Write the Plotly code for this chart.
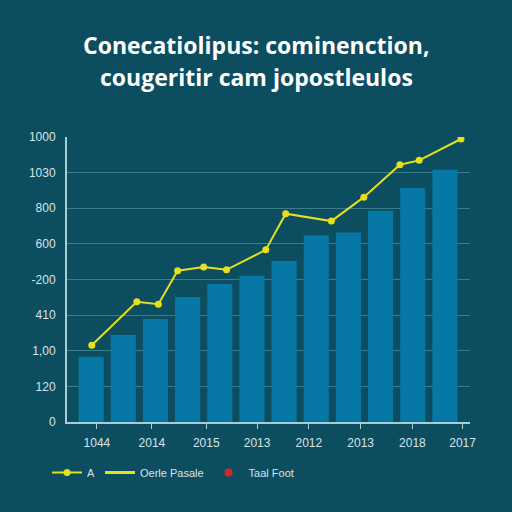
import plotly.graph_objects as go

# Data
bar_x = list(range(12))
bar_values = [229, 305, 361, 439, 484, 513, 565, 655, 665, 741, 821, 885]

line_x = [0.02, 1.42, 2.09, 2.69, 3.50, 4.21, 5.43, 6.05, 7.47, 8.48, 9.60, 10.2, 11.5]
line_values = [269, 422, 413, 531, 544, 534, 604, 731, 705, 789, 903, 918, 993]

y_tickvals = [0, 125, 250, 375, 500, 625, 750, 875, 1000]
y_ticktext = ["0", "120", "1,00", "410", "-200", "600", "800", "1030", "1000"]

x_tickvals = [0.18, 1.89, 3.58, 5.16, 6.77, 8.38, 9.99, 11.55]
x_ticktext = ["1044", "2014", "2015", "2013", "2012", "2013", "2018", "2017"]

title_lines = ["Conecatiolipus: cominenction,", "cougeritir cam jopostleulos"]
legend_names = ["A", "Oerle Pasale", "Taal Foot"]

BG = "#0c4d60"
BAR = "#0777a6"
YEL = "#e4e01c"
GRID = "#3a7e8e"
AXIS = "#a8cdd6"
TXT = "#d6e4e8"

fig = go.Figure()
fig.add_trace(go.Bar(x=bar_x, y=bar_values, width=0.78, marker=dict(color=BAR, line=dict(width=0)),
                     showlegend=False))
fig.add_trace(go.Scatter(x=line_x, y=line_values, mode="lines+markers", name=legend_names[0],
                         line=dict(color=YEL, width=2), marker=dict(color=YEL, size=7)))
fig.add_trace(go.Scatter(x=[None], y=[None], mode="lines", name=legend_names[1],
                         line=dict(color=YEL, width=3)))
fig.add_trace(go.Scatter(x=[None], y=[None], mode="markers", name=legend_names[2],
                         marker=dict(color="#d8262a", size=8)))

L, R, T, B = 67, 42, 137, 90
plot_w = 512 - L - R
plot_h = 512 - T - B

fig.update_layout(
    width=512, height=512,
    margin=dict(l=L, r=R, t=T, b=B),
    paper_bgcolor=BG, plot_bgcolor=BG,
    font=dict(family="Liberation Sans, Arial, sans-serif", color=TXT, size=11),
    showlegend=True,
    legend=dict(orientation="h", x=(47 - L) / plot_w, y=-(467 - 422 - 9) / plot_h,
                xanchor="left", yanchor="top",
                font=dict(size=11, color=TXT), bgcolor="rgba(0,0,0,0)",
                itemwidth=30, tracegroupgap=0),
    bargap=0.2,
)
for txt, py in zip(title_lines, [45, 77]):
    fig.add_annotation(text="<b>" + txt + "</b>", x=(256 - L) / plot_w, y=(512 - B - py) / plot_h,
                       xref="paper", yref="paper", xanchor="center", yanchor="middle",
                       showarrow=False, font=dict(family="Open Sans, sans-serif", size=23, color="#ffffff"))

fig.update_xaxes(range=[-0.75, 11.78], tickvals=x_tickvals, ticktext=x_ticktext,
                 showgrid=False, zeroline=False, showline=True, linecolor=AXIS, linewidth=2,
                 ticks="outside", ticklen=5, tickcolor=AXIS, ticklabelstandoff=4,
                 tickfont=dict(size=12, color=TXT))
fig.update_yaxes(range=[0, 1000], tickvals=y_tickvals, ticktext=y_ticktext,
                 showgrid=True, gridcolor=GRID, gridwidth=1, zeroline=False,
                 showline=True, linecolor=AXIS, linewidth=2, ticks="", ticklabelstandoff=7,
                 tickfont=dict(size=12, color=TXT))

fig.write_html("out.html", config={"displayModeBar": False},
               post_script="document.body.style.margin='0';document.body.style.background='" + BG + "';")
